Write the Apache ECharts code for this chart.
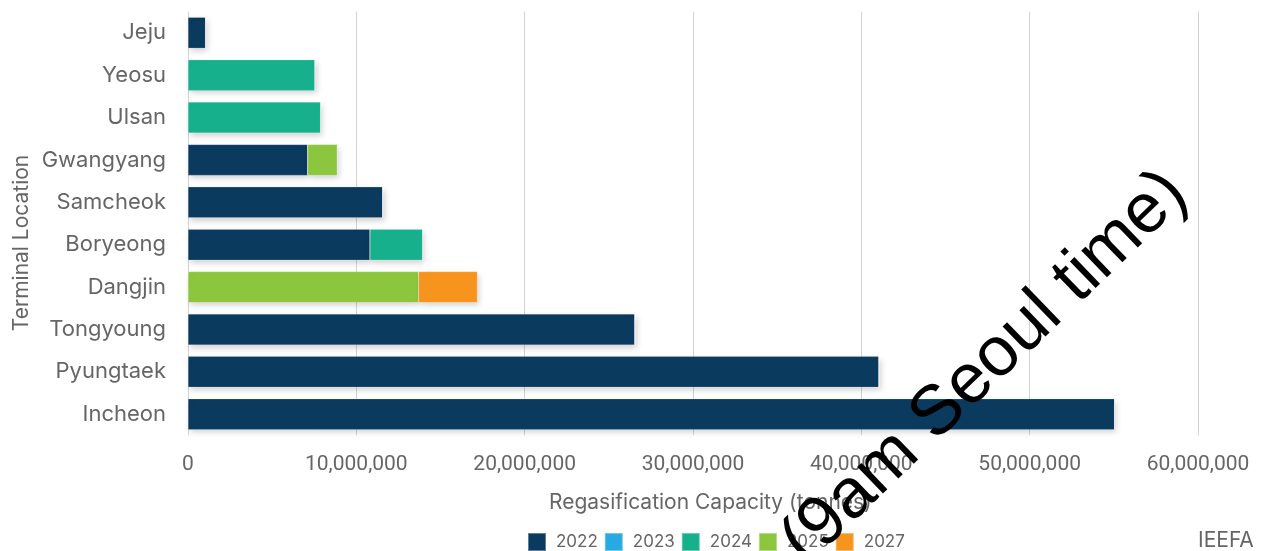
<!DOCTYPE html>
<html>
<head>
<meta charset="utf-8">
<script src="https://cdn.jsdelivr.net/npm/echarts@6/dist/echarts.min.js"></script>
<style>html,body{margin:0;padding:0;background:#fff;}#c{width:1262px;height:551px;}</style>
</head>
<body>
<div id="c"></div>
<script>
const categories = ['Jeju','Yeosu','Ulsan','Gwangyang','Samcheok','Boryeong','Dangjin','Tongyoung','Pyungtaek','Incheon'];
const years = ['2022','2023','2024','2025','2027'];
const v2022 = [1050000, 0, 0, 7110000, 11570000, 10810000, 0, 26550000, 41050000, 55050000];
const v2023 = [0, 0, 0, 0, 0, 0, 0, 0, 0, 0];
const v2024 = [0, 7540000, 7880000, 0, 0, 3130000, 0, 0, 0, 0];
const v2025 = [0, 0, 0, 1760000, 0, 0, 13700000, 0, 0, 0];
const v2027 = [0, 0, 0, 0, 0, 0, 3490000, 0, 0, 0];
const xTicks = [0, 10000000, 20000000, 30000000, 40000000, 50000000, 60000000];

const colors = ['#0b3a5f', '#27aae1', '#17b08d', '#8cc63f', '#f7941d'];
const seriesData = [v2022, v2023, v2024, v2025, v2027];

const chart = echarts.init(document.getElementById('c'), null, {renderer: 'canvas'});
const labelColor = '#666666';
const option = {
  animation: false,
  color: colors,
  grid: {left: 188, right: 64, top: 11.6, bottom: 115.6, containLabel: false},
  xAxis: {
    type: 'value', min: xTicks[0], max: xTicks[xTicks.length - 1], interval: 10000000,
    axisLine: {show: false}, axisTick: {show: false},
    splitLine: {lineStyle: {color: '#d4d4d4', width: 1}},
    axisLabel: {color: labelColor, fontFamily: 'Roboto', fontSize: 21, margin: 19,
      formatter: v => v.toLocaleString('en-US')}
  },
  yAxis: {
    type: 'category', data: categories, inverse: true,
    axisLine: {show: false}, axisTick: {show: false},
    axisLabel: {color: labelColor, fontFamily: 'Inter', fontSize: 22, margin: 22}
  },
  legend: {
    data: years, bottom: -6, left: 522, itemWidth: 18, itemHeight: 18, itemGap: 6,
    icon: 'rect', textStyle: {color: labelColor, fontFamily: 'Inter', fontSize: 17, padding: [0, 0, 0, 5]}
  },
  graphic: [
    {type: 'text', left: 549, top: 492, style: {text: 'Regasification Capacity (tonnes)', fill: labelColor, font: '21px Inter'}},
    {type: 'text', x: 22, y: 243, rotation: Math.PI / 2,
      style: {text: 'Terminal Location', fill: labelColor, font: '21px Inter', align: 'center', verticalAlign: 'middle'}},
    {type: 'text', left: 1198, top: 530, style: {text: 'IEEFA', fill: labelColor, font: '21px Inter'}},
    {type: 'text', x: 985, y: 368, rotation: 44 * Math.PI / 180, z: 100,
      style: {text: '(9am Seoul time)', fill: '#000', font: '70px "Liberation Sans"', align: 'center', verticalAlign: 'middle'}}
  ],
  series: years.map((y, i) => ({
    name: y, type: 'bar', stack: 'total', data: seriesData[i], barWidth: 31,
    itemStyle: {color: colors[i], borderColor: 'rgba(255,255,255,0.35)', borderWidth: 0.5,
      shadowColor: 'rgba(0,0,0,0.18)', shadowBlur: 6, shadowOffsetX: 2, shadowOffsetY: 3}
  }))
};
chart.setOption(option);
</script>
</body>
</html>
